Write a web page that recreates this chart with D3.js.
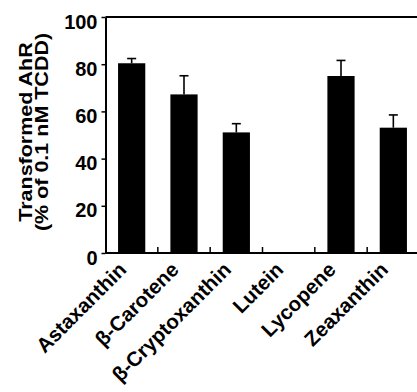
<!DOCTYPE html>
<html lang="en">
<head>
    <meta charset="UTF-8">
    <title>Transformed AhR</title>
    <script src="https://d3js.org/d3.v7.min.js"></script>
    <style>
        body {
            margin: 0;
            background: #fff;
        }
        svg text {
            font-family: "Liberation Sans", Arial, sans-serif;
            font-weight: bold;
            fill: #000;
        }
        .axis-y text {
            font-size: 20px;
        }
        .x-label {
            font-size: 20.5px;
        }
        .y-title {
            font-size: 21.5px;
        }
    </style>
</head>
<body>
    <script>
        // values
        const categories = ["Astaxanthin", "β-Carotene", "β-Cryptoxanthin", "Lutein", "Lycopene", "Zeaxanthin"];
        const means = [80.4, 67.2, 51.1, 0, 75.0, 53.1];
        const errors = [2.0, 7.9, 3.7, 0, 6.6, 5.4];
        const yTicks = [0, 20, 40, 60, 80, 100];

        const width = 417;
        const height = 392;

        const svg = d3.select("body").append("svg")
            .attr("width", width)
            .attr("height", height);

        const plotLeft = 105.5, plotRight = 419.5, plotTop = 17, plotBottom = 253;

        const y = d3.scaleLinear()
            .domain([0, 100])
            .range([plotBottom, plotTop]);

        // bands for the tick marks between groups
        const xBand = d3.scaleBand()
            .domain(categories)
            .range([plotLeft, plotRight])
            .padding(0);

        // bars
        const x = d3.scaleBand()
            .domain(categories)
            .range([plotLeft, plotRight])
            .paddingInner(0.48)
            .paddingOuter(0.24);

        const data = categories.map((c, i) => ({ name: c, value: means[i], err: errors[i] }));

        // bars
        svg.selectAll("rect.bar")
            .data(data)
            .enter().append("rect")
            .attr("class", "bar")
            .attr("x", d => x(d.name))
            .attr("width", x.bandwidth())
            .attr("y", d => y(d.value))
            .attr("height", d => y(0) - y(d.value))
            .attr("fill", "#000");

        // error bars (upper only)
        const err = svg.selectAll("g.err")
            .data(data.filter(d => d.err > 0))
            .enter().append("g")
            .attr("class", "err")
            .attr("stroke", "#000")
            .attr("stroke-width", 1.6);

        err.append("line")
            .attr("x1", d => x(d.name) + x.bandwidth() / 2)
            .attr("x2", d => x(d.name) + x.bandwidth() / 2)
            .attr("y1", d => y(d.value))
            .attr("y2", d => y(d.value + d.err));

        err.append("line")
            .attr("x1", d => x(d.name) + x.bandwidth() / 2 - 4.5)
            .attr("x2", d => x(d.name) + x.bandwidth() / 2 + 4.5)
            .attr("y1", d => y(d.value + d.err))
            .attr("y2", d => y(d.value + d.err));

        // frame: top and bottom lines, left axis
        svg.append("line")
            .attr("x1", plotLeft).attr("x2", plotRight)
            .attr("y1", plotTop).attr("y2", plotTop)
            .attr("stroke", "#000").attr("stroke-width", 2);

        svg.append("line")
            .attr("x1", plotLeft).attr("x2", plotRight)
            .attr("y1", plotBottom).attr("y2", plotBottom)
            .attr("stroke", "#000").attr("stroke-width", 2);

        // small inward ticks between groups
        svg.selectAll("line.xtick")
            .data(categories.slice(1))
            .enter().append("line")
            .attr("class", "xtick")
            .attr("x1", d => xBand(d))
            .attr("x2", d => xBand(d))
            .attr("y1", plotBottom)
            .attr("y2", plotBottom - 6)
            .attr("stroke", "#000")
            .attr("stroke-width", 1.5);

        const yAxis = svg.append("g")
            .attr("class", "axis-y")
            .attr("transform", `translate(${plotLeft},0)`)
            .call(d3.axisLeft(y).tickValues(yTicks).tickSize(4).tickPadding(4).tickSizeOuter(0));

        yAxis.select(".domain").attr("stroke-width", 2);
        yAxis.selectAll(".tick line").attr("stroke-width", 1.5);
        yAxis.selectAll(".tick text").attr("dy", "0.55em");

        // rotated category labels
        svg.selectAll("text.x-label")
            .data(categories)
            .enter().append("text")
            .attr("class", "x-label")
            .attr("text-anchor", "end")
            .attr("transform", d => `translate(${xBand(d) + xBand.bandwidth() / 2 - 4},${plotBottom + 18}) rotate(-45)`)
            .text(d => d);

        // y axis title, two lines (glyphs a bit squat, as in the source figure)
        const midY = 132;
        const titleLines = ["Transformed AhR", "(% of 0.1 nM TCDD)"];
        svg.selectAll("text.y-title")
            .data(titleLines)
            .enter().append("text")
            .attr("class", "y-title")
            .attr("text-anchor", "middle")
            .attr("transform", (d, i) => `translate(${32 + i * 16},${midY}) rotate(-90) scale(1,0.85)`)
            .text(d => d);
    </script>
</body>
</html>
